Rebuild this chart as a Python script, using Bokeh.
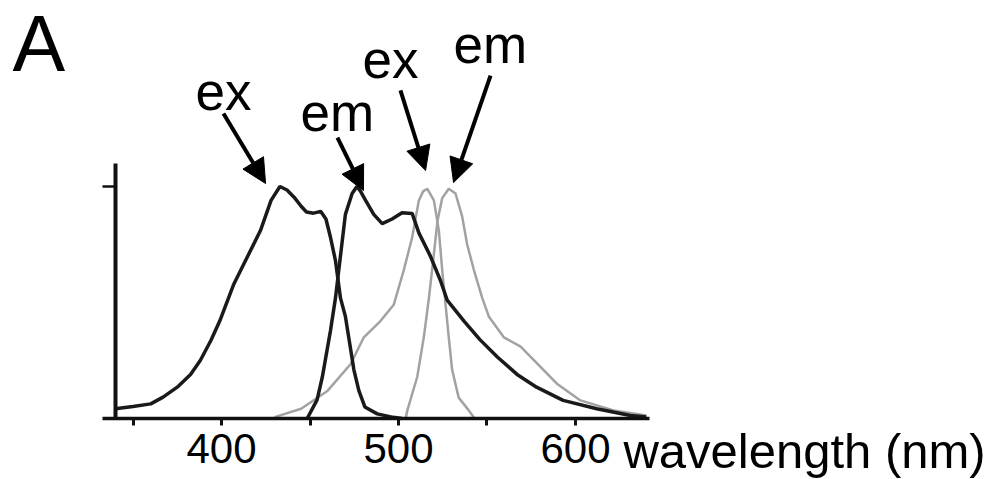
from bokeh.plotting import figure
from bokeh.models import FixedTicker, Label, Arrow, NormalHead
from bokeh.embed import file_html
from bokeh.resources import INLINE

# ---- data ----
cfp_ex_nm = [340, 350, 360, 367, 375, 382.5, 388, 394, 399, 407, 414.5, 422, 428, 433, 437, 441, 445, 448,
             452, 456, 459, 461.6, 464.4, 467.2, 470, 472.5, 474.8, 477.6, 481, 488, 497, 502]
cfp_ex_v = [0.042, 0.052, 0.063, 0.092, 0.135, 0.19, 0.25, 0.336, 0.42, 0.58, 0.695, 0.81, 0.94, 1.0, 0.985,
            0.954, 0.915, 0.89, 0.885, 0.893, 0.86, 0.78, 0.68, 0.52, 0.44, 0.32, 0.21, 0.12, 0.05, 0.02, 0.005, 0.0]

cfp_em_nm = [448.4, 454, 457, 461.6, 464.4, 467.2, 470, 473.8, 476.5, 478.5, 481.4, 486, 490.8, 496.4, 502,
             507.7, 511.5, 518, 523.7, 527.5, 537, 546, 556, 567, 578, 593, 612, 631, 640]
cfp_em_v = [0.0, 0.08, 0.18, 0.38, 0.52, 0.70, 0.88, 0.97, 1.0, 0.98, 0.94, 0.88, 0.84, 0.86, 0.887,
            0.884, 0.80, 0.70, 0.595, 0.51, 0.42, 0.34, 0.264, 0.19, 0.135, 0.078, 0.042, 0.013, 0.006]

yfp_ex_nm = [430, 445, 460, 473, 480.4, 489.8, 497.3, 503, 507.7, 511.5, 514, 516.3, 520, 522.8, 524.7,
             526.6, 528.4, 530.3, 534, 539.7, 543]
yfp_ex_v = [0.006, 0.042, 0.12, 0.235, 0.35, 0.42, 0.49, 0.64, 0.78, 0.94, 0.98, 0.99, 0.94, 0.81, 0.64,
            0.49, 0.35, 0.21, 0.09, 0.035, 0.0]

yfp_em_nm = [504, 505, 510.6, 514.3, 517.2, 520, 522, 524.7, 528.4, 532.2, 536, 538.8, 542.6, 547.3, 551,
             559.5, 569, 578, 589.5, 602.8, 621.5, 640]
yfp_em_v = [0.0, 0.035, 0.18, 0.35, 0.52, 0.71, 0.85, 0.95, 0.99, 0.97, 0.87, 0.75, 0.64, 0.52, 0.44,
            0.35, 0.31, 0.24, 0.15, 0.078, 0.035, 0.013]

x_ticks = [350, 400, 450, 500, 550, 600]
x_tick_labels = {350: "", 400: "400", 450: "", 500: "500", 550: "", 600: "600"}

# annotation texts: (text, x, y)
ann_labels = [("ex", 385.3, 1.408), ("em", 444.6, 1.321), ("ex", 479.7, 1.546), ("em", 531.1, 1.614)]
# arrows: (x_start, y_start, x_end, y_end)
ann_arrows = [(401.1, 1.315, 424.9, 1.013), (465.5, 1.211, 480.2, 0.983),
              (501.1, 1.414, 515.3, 1.069), (552.0, 1.478, 531.1, 1.017)]

FONT = "Liberation Sans"

p = figure(width=1001, height=479, output_backend="svg", toolbar_location=None,
           x_range=(275.14, 840.68), y_range=(-0.2629, 1.8017),
           min_border=0, min_border_left=0, min_border_right=0, min_border_top=0, min_border_bottom=0)
p.outline_line_color = None
p.background_fill_color = "white"
p.border_fill_color = "white"
p.grid.visible = False

# x axis
xa = p.xaxis[0]
xa.fixed_location = 0
xa.bounds = (333, 642)
xa.ticker = FixedTicker(ticks=x_ticks)
xa.major_label_overrides = x_tick_labels
xa.minor_tick_line_color = None
xa.major_tick_in = 0
xa.major_tick_out = 7
xa.major_tick_line_width = 3
xa.axis_line_width = 3.5
xa.axis_line_color = "#111111"
xa.major_tick_line_color = "#111111"
xa.major_label_text_font = FONT
xa.major_label_text_font_size = "42px"
xa.major_label_text_color = "black"
xa.major_label_standoff = 8

# y axis
ya = p.yaxis[0]
ya.fixed_location = 340
ya.bounds = (0, 1.1)
ya.ticker = FixedTicker(ticks=[1])
ya.major_label_overrides = {1: ""}
ya.minor_tick_line_color = None
ya.major_tick_in = 0
ya.major_tick_out = 13
ya.major_tick_line_width = 2.5
ya.axis_line_width = 4
ya.axis_line_color = "#111111"
ya.major_tick_line_color = "#111111"

# curves
gray = "#a2a2a2"
p.line(yfp_ex_nm, yfp_ex_v, line_color=gray, line_width=2.5)
p.line(yfp_em_nm, yfp_em_v, line_color=gray, line_width=2.5)
p.line(cfp_ex_nm, cfp_ex_v, line_color="#1a1a1a", line_width=3.5)
p.line(cfp_em_nm, cfp_em_v, line_color="#1a1a1a", line_width=3.5)

# annotations
for (xs, ys, xe, ye) in ann_arrows:
    p.add_layout(Arrow(end=NormalHead(size=24, fill_color="black", line_color="black"),
                       x_start=xs, y_start=ys, x_end=xe, y_end=ye,
                       line_width=4, line_color="black"))
for (t, x, y) in ann_labels:
    p.add_layout(Label(x=x, y=y, text=t, text_font=FONT, text_font_size="53px",
                       text_color="black", text_baseline="alphabetic", text_align="left"))

p.add_layout(Label(x=281.9, y=1.615, text="A", text_font=FONT, text_font_size="79px",
                   text_color="black", text_baseline="alphabetic", text_align="left"))
p.add_layout(Label(x=627.1, y=-0.140, text="wavelength (nm)", text_font=FONT, text_font_size="49px",
                   text_color="black", text_baseline="alphabetic", text_align="left"))

open("out.html", "w").write(file_html(p, INLINE))
